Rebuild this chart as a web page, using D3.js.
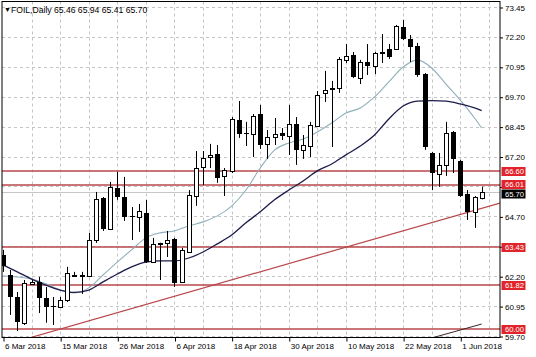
<!DOCTYPE html>
<html><head><meta charset="utf-8">
<script src="https://cdn.jsdelivr.net/npm/d3@7"></script>
<style>html,body{margin:0;padding:0;background:#fff;}svg{display:block;}</style>
</head><body><div id="chart"></div>
<script>
// ---- data (bar index 0..67, daily bars) ----
const opens  = [63.09,62.25,61.33,60.25,61.88,61.96,61.29,60.96,60.91,61.21,62.25,62.21,62.21,63.71,65.47,64.17,65.89,65.51,64.72,64.68,64.84,62.79,63.57,63.59,63.76,61.96,63.21,65.55,66.76,67.18,67.31,66.39,66.60,68.73,68.17,68.14,68.98,67.73,68.02,68.19,68.06,68.56,67.48,67.64,68.48,69.86,70.02,70.07,71.24,71.45,70.48,71.15,70.99,71.53,71.70,71.70,72.62,72.11,71.82,70.65,67.35,66.47,66.85,68.23,67.02,65.64,64.88,65.46];
const highs  = [63.30,62.46,61.54,62.04,62.04,62.17,61.75,61.33,61.33,62.59,62.38,62.38,64.01,65.72,65.51,66.14,66.56,66.35,65.09,65.22,65.39,63.80,63.60,64.09,63.80,63.38,65.80,67.43,67.43,67.73,67.68,66.72,68.85,69.52,68.65,68.98,69.36,68.31,68.81,68.39,69.36,68.85,68.10,68.65,69.94,70.78,70.36,71.36,71.90,71.57,71.24,71.90,71.57,72.32,71.90,72.70,72.91,72.28,71.95,70.69,67.39,67.35,68.65,68.27,67.06,65.80,65.55,65.94];
const lows   = [62.38,60.58,59.91,60.16,61.83,60.66,60.25,60.16,60.87,61.12,62.17,61.46,62.17,63.59,64.09,64.13,65.39,64.51,63.71,64.05,62.75,62.75,62.04,63.00,61.75,61.92,63.17,65.14,66.01,66.72,66.10,65.55,66.51,67.98,67.64,67.18,67.52,67.10,67.68,67.89,67.27,66.85,67.10,67.18,68.44,69.48,67.60,69.86,71.11,70.48,70.23,70.61,70.65,71.11,71.28,71.65,72.07,71.15,70.53,67.48,65.80,65.93,66.39,66.51,65.51,64.55,64.22,65.41];
const closes = [62.63,61.33,60.29,61.92,61.96,61.29,60.91,60.91,61.21,62.33,62.26,62.25,63.71,65.43,64.17,65.93,65.51,64.68,64.68,64.93,62.79,63.55,63.58,63.71,61.92,63.30,65.59,66.72,67.14,67.27,66.31,66.64,68.77,68.14,68.14,68.90,67.68,68.02,68.14,68.06,68.56,67.48,67.68,68.52,69.77,69.98,70.07,71.28,71.40,70.53,71.15,70.99,71.53,71.57,71.36,72.66,72.11,71.78,70.61,67.60,66.51,66.85,68.19,67.10,65.55,64.88,65.51,65.70];

// moving averages (bar index, value)
const maIdx  = [0,2,4,6,8,10,12,14,16,18,20,22,24,26,28,30,32,34,36,38,40,42,44,46,48,50,52,54,56,58,60,62,64,66,67];
const maFast = [62.21,62.17,62.08,61.88,61.62,61.50,61.71,62.25,62.79,63.30,63.80,64.01,64.09,64.30,64.47,64.72,65.13,65.80,66.72,67.47,67.77,67.93,68.23,68.60,69.02,69.23,69.69,70.32,70.94,71.24,70.90,70.23,69.56,68.81,68.39];
const maSlow = [62.67,62.38,62.08,61.83,61.62,61.52,61.62,61.96,62.29,62.59,62.79,62.84,62.84,62.96,63.21,63.55,63.92,64.43,64.89,65.39,65.80,66.18,66.60,66.89,67.27,67.64,68.10,68.77,69.31,69.52,69.54,69.52,69.40,69.23,69.12];

const levels = [66.60, 66.01, 63.43, 61.82, 60.00];
const bidPrice = 65.70;
const trendMain = [{i:10, v:60.16}, {i:60, v:64.44}];
const trendLow  = [{i:58, v:59.45}, {i:67, v:60.20}];

const yTicks = [73.45,72.20,70.95,69.70,68.45,67.20,65.95,64.70,63.45,62.20,60.95,59.70];
const yHiddenLabels = [65.95, 63.45]; // covered by price boxes in the original
const xTickIdx = [0,8,16,24,32,40,48,56,64];
const xTickLabels = ["6 Mar 2018","15 Mar 2018","26 Mar 2018","6 Apr 2018","18 Apr 2018","30 Apr 2018","10 May 2018","22 May 2018","1 Jun 2018"];
const title = "FOIL,Daily  65.46 65.94 65.41 65.70";

// ---- layout ----
const W = 536, H = 357;
const P = {left:2, right:500, top:1.5, bottom:337.5};
const FONT = "'Liberation Sans', Arial, sans-serif";
const x = d3.scaleLinear().domain([0, 67]).range([3, 481.7]);
const y = d3.scaleLinear().domain([59.70, 73.45]).range([336, 7]);
const C = v => Math.round(v) + 0.5;
const LEVEL = "#b9474a";

const svg = d3.select("#chart").append("svg").attr("width", W).attr("height", H)
  .style("font-family", FONT);
svg.append("rect").attr("width", W).attr("height", H).attr("fill", "#fff");

svg.append("defs").append("clipPath").attr("id", "clip")
  .append("rect").attr("x", P.left).attr("y", P.top).attr("width", P.right - P.left).attr("height", P.bottom - P.top);

const g = svg.append("g").attr("clip-path", "url(#clip)");

// grid
g.selectAll(".hg").data(yTicks).join("line")
  .attr("x1", P.left).attr("x2", P.right)
  .attr("y1", d => C(y(d))).attr("y2", d => C(y(d)))
  .attr("stroke", "#c4c4c4").attr("stroke-dasharray", "3,3");
g.selectAll(".vg").data(d3.range(4, 69, 4)).join("line")
  .attr("x1", d => C(x(d))).attr("x2", d => C(x(d)))
  .attr("y1", P.top).attr("y2", P.bottom)
  .attr("stroke", "#c4c4c4").attr("stroke-dasharray", "3,3");

// horizontal levels
g.selectAll(".lv").data(levels).join("line")
  .attr("x1", P.left).attr("x2", P.right)
  .attr("y1", d => Math.round(y(d))).attr("y2", d => Math.round(y(d)))
  .attr("stroke", LEVEL).attr("stroke-width", 1.6);
// bid line
g.append("line").attr("x1", P.left).attr("x2", P.right)
  .attr("y1", C(y(bidPrice))).attr("y2", C(y(bidPrice)))
  .attr("stroke", "#c6c6c6");

// trend lines
function ray(pts) {
  const [a, b] = pts;
  const s = (b.v - a.v) / (b.i - a.i);
  const iEnd = x.invert(P.right);
  const iStart = a.i - 20;
  return [[x(iStart), y(a.v + s * (iStart - a.i))], [x(iEnd), y(a.v + s * (iEnd - a.i))]];
}
g.append("path").attr("d", d3.line()(ray(trendMain)))
  .attr("stroke", LEVEL).attr("stroke-width", 1.2).attr("fill", "none");
const tl = trendLow;
g.append("path").attr("d", d3.line()([[x(tl[0].i), y(tl[0].v)], [x(tl[1].i), y(tl[1].v)]]))
  .attr("stroke", "#3c2222").attr("stroke-width", 1).attr("fill", "none");

// moving averages
const maLine = vals => d3.line().x((d, k) => x(maIdx[k])).y(d => y(d)).curve(d3.curveMonotoneX)(vals);
g.append("path").attr("d", maLine(maFast)).attr("fill", "none").attr("stroke", "#8fb0ba").attr("stroke-width", 1.1);
g.append("path").attr("d", maLine(maSlow)).attr("fill", "none").attr("stroke", "#1c1c4c").attr("stroke-width", 1.3);

// candles
const bars = opens.map((o, i) => ({i, o, h: highs[i], l: lows[i], c: closes[i]}));
const cg = g.append("g");
cg.selectAll(".wick").data(bars).join("line")
  .attr("x1", d => Math.round(x(d.i)) + 0.5).attr("x2", d => Math.round(x(d.i)) + 0.5)
  .attr("y1", d => y(d.h)).attr("y2", d => y(d.l))
  .attr("stroke", "#000");
cg.selectAll(".body").data(bars).join("rect")
  .attr("x", d => d.c >= d.o ? Math.round(x(d.i)) - 1.5 : Math.round(x(d.i)) - 2)
  .attr("width", d => d.c >= d.o ? 4 : 5)
  .attr("y", d => d.c >= d.o ? Math.round(y(d.c)) + 0.5 : Math.round(y(d.o)))
  .attr("height", d => Math.max(1, Math.abs(Math.round(y(d.o)) - Math.round(y(d.c)))))
  .attr("fill", d => d.c >= d.o ? "#fff" : "#000")
  .attr("stroke", d => d.c >= d.o ? "#000" : "none");

// frame
svg.append("rect").attr("x", P.left).attr("y", P.top).attr("width", P.right - P.left).attr("height", P.bottom - P.top)
  .attr("fill", "none").attr("stroke", "#000");

// right axis
const ya = d3.axisRight(y).tickValues(yTicks)
  .tickFormat(d => yHiddenLabels.includes(d) ? "" : d3.format(".2f")(d)).tickSize(3).tickPadding(2);
const yAxisG = svg.append("g").attr("transform", `translate(${P.right},0.5)`).call(ya);
yAxisG.select(".domain").remove();
yAxisG.selectAll("text").attr("font-size", 8).attr("font-family", FONT).attr("fill", "#000");
yAxisG.selectAll("line").attr("stroke", "#000");

// price boxes (66.01 and 65.70 nudged apart so their texts do not collide)
const boxes = levels.map(v => ({v, fill: "#e1242b", dy: v === 66.01 ? -1 : 0}))
  .concat([{v: bidPrice, fill: "#000", dy: 1.5}]);
const bg = svg.append("g");
bg.selectAll("rect").data(boxes).join("rect")
  .attr("x", P.right + 1.5).attr("width", 24).attr("y", d => Math.round(y(d.v)) + d.dy - 4).attr("height", 9)
  .attr("fill", d => d.fill);
bg.selectAll("text").data(boxes).join("text")
  .attr("x", P.right + 5).attr("y", d => Math.round(y(d.v)) + d.dy + 0.5).attr("dy", "0.33em")
  .attr("font-size", 7.6).attr("fill", "#fff").text(d => d.v.toFixed(2));

// bottom axis
const xa = d3.axisBottom(x).tickValues(xTickIdx).tickFormat((d, k) => xTickLabels[k]).tickSize(4).tickPadding(2);
const xAxisG = svg.append("g").attr("transform", `translate(0.5,${P.bottom})`).call(xa);
xAxisG.select(".domain").remove();
xAxisG.selectAll("line").attr("stroke", "#000");
xAxisG.selectAll("text").attr("font-size", 8).attr("font-family", FONT).attr("fill", "#000")
  .attr("text-anchor", "start").attr("dx", 1);

// title
svg.append("text").attr("x", 4).attr("y", 12).attr("font-size", 7).text("\u25BC");
svg.append("text").attr("x", 11).attr("y", 12.5).attr("font-size", 8.6).attr("fill", "#000").text(title);
</script></body></html>
